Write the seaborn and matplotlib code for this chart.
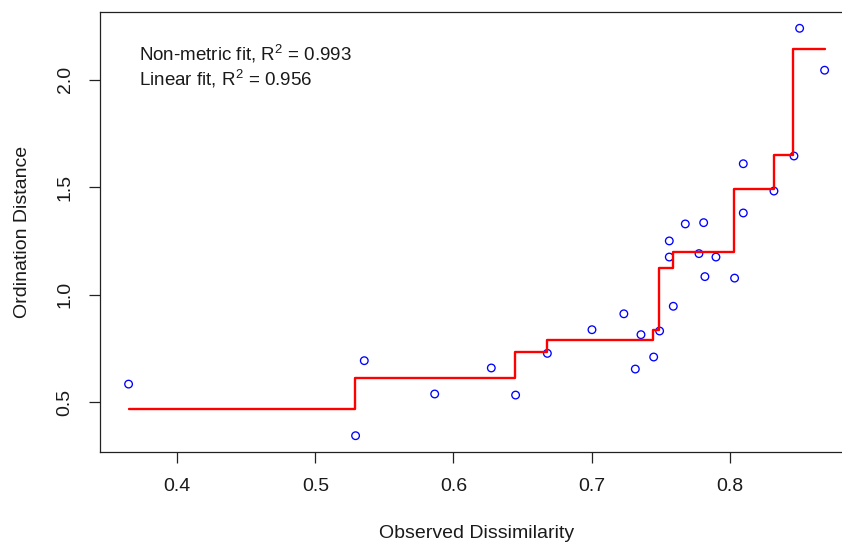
import matplotlib
matplotlib.use("Agg")
import matplotlib.pyplot as plt
import seaborn as sns
import pandas as pd

# Observed dissimilarities and ordination distances (one per pair of samples)
observed = [0.3647, 0.5291, 0.5354, 0.5864, 0.6274, 0.6450, 0.6680, 0.7003,
            0.7234, 0.7317, 0.7358, 0.7450, 0.7493, 0.7592, 0.7563, 0.7563,
            0.7679, 0.7778, 0.7812, 0.7821, 0.7901, 0.8036, 0.8099, 0.8099,
            0.8321, 0.8466, 0.8507, 0.8688]
ordination = [0.585, 0.345, 0.694, 0.539, 0.660, 0.534, 0.728, 0.838,
              0.912, 0.655, 0.815, 0.711, 0.832, 0.947, 1.176, 1.251,
              1.330, 1.192, 1.336, 1.085, 1.176, 1.078, 1.381, 1.610,
              1.483, 1.646, 2.240, 2.045]

# Monotone (isotonic) fit: level starts at each break
step_x = [0.3647, 0.5290, 0.6443, 0.6677, 0.7445, 0.7488, 0.7592, 0.8031,
          0.8319, 0.8458, 0.8688]
step_y = [0.467, 0.612, 0.733, 0.790, 0.836, 1.126, 1.201, 1.493,
          1.649, 2.144, 2.144]

x_ticks = [0.4, 0.5, 0.6, 0.7, 0.8]
y_ticks = [0.5, 1.0, 1.5, 2.0]
nonmetric_r2 = "0.993"
linear_r2 = "0.956"

sns.set_style("white")
plt.rcParams["font.family"] = ["Liberation Sans", "DejaVu Sans"]
plt.rcParams["mathtext.fontset"] = "custom"
plt.rcParams["mathtext.rm"] = "Liberation Sans"

pts = pd.DataFrame({"observed": observed, "ordination": ordination})
fit = pd.DataFrame({"x": step_x, "y": step_y})

fig = plt.figure(figsize=(8.42, 5.45), dpi=100)
W, H = 842, 545
xlim = (0.3440, 0.8890)
ylim = (0.2692, 2.3158)
px_per_x = 1380.75
left_px, top_px, bottom_px = 100, 12, 452
width_px = (xlim[1] - xlim[0]) * px_per_x
ax = fig.add_axes([left_px / W, (H - bottom_px) / H, width_px / W,
                   (bottom_px - top_px) / H])

sns.scatterplot(data=pts, x="observed", y="ordination", ax=ax,
                marker="o", s=30, facecolor="none", edgecolor="#0000FF",
                linewidth=0.95, zorder=2)
sns.lineplot(data=fit, x="x", y="y", ax=ax, color="#FF0000", linewidth=1.7,
             drawstyle="steps-post", estimator=None, sort=False, zorder=3)

ax.set_xlim(*xlim)
ax.set_ylim(*ylim)
ax.set_xticks(x_ticks)
ax.set_yticks(y_ticks)
ax.set_xticklabels([f"{v:.1f}" for v in x_ticks])
ax.set_yticklabels([f"{v:.1f}" for v in y_ticks], rotation=90, va="center")

for side in ["top", "right", "bottom", "left"]:
    ax.spines[side].set_visible(True)
    ax.spines[side].set_color("#222222")
    ax.spines[side].set_linewidth(0.9)

ax.tick_params(axis="both", direction="out", length=8, width=0.9,
               color="#222222", labelsize=14, pad=11, labelcolor="#1a1a1a")
ax.tick_params(axis="both", which="both", bottom=True, left=True,
               top=False, right=False)

ax.set_xlabel("Observed Dissimilarity", fontsize=14, color="#1a1a1a")
ax.set_ylabel("Ordination Distance", fontsize=14, color="#1a1a1a")
ax.xaxis.set_label_coords(0.5, -0.166)
ax.yaxis.set_label_coords(-0.092, 0.5)

ax.text(0.052, 0.889, "Non-metric fit, R$^\\mathregular{2}$ = " + nonmetric_r2,
        transform=ax.transAxes, fontsize=13.5, ha="left", va="baseline",
        color="#1a1a1a")
ax.text(0.052, 0.834, "Linear fit, R$^\\mathregular{2}$ = " + linear_r2,
        transform=ax.transAxes, fontsize=13.5, ha="left", va="baseline",
        color="#1a1a1a")

fig.savefig("out.png", dpi=100)
